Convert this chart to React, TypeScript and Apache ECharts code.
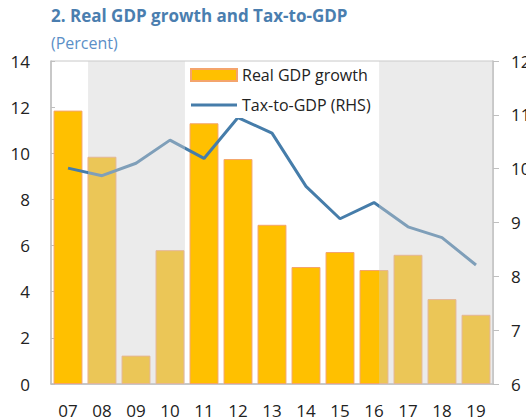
import React, { useEffect, useRef } from "react";
import * as echarts from "echarts";

const years = ["07", "08", "09", "10", "11", "12", "13", "14", "15", "16", "17", "18", "19"];
const realGdpGrowth = [11.85, 9.85, 1.23, 5.8, 11.3, 9.75, 6.9, 5.07, 5.72, 4.94, 5.6, 3.68, 3.0];
const taxToGdp = [10.01, 9.87, 10.1, 10.53, 10.19, 10.95, 10.66, 9.67, 9.07, 9.37, 8.92, 8.72, 8.21];
// shaded periods, in category-index units (start, end)
const shadedPeriods = [
  [0.59, 3.44],
  [9.15, 12.5],
];
const leftTicks = { min: 0, max: 14, interval: 2 };
const rightTicks = { min: 6, max: 12, interval: 1 };

const FONT = "'Open Sans', 'Noto Sans', sans-serif";

export default function App() {
  const ref = useRef<HTMLDivElement>(null);
  useEffect(() => {
    if (!ref.current) return;
    const chart = echarts.init(ref.current, null, { renderer: "svg" });
    chart.setOption({
      animation: false,
      title: {
        text: "2. Real GDP growth and Tax-to-GDP",
        subtext: "(Percent)",
        left: 46,
        top: 2,
        itemGap: 11,
        textStyle: { fontFamily: FONT, fontSize: 17, fontWeight: "bold", color: "#4A7EAF" },
        subtextStyle: { fontFamily: FONT, fontSize: 16, color: "#5B8FC7" },
      },
      legend: {
        orient: "vertical",
        left: 185,
        top: 62,
        z: 20,
        backgroundColor: "#ffffff",
        padding: [5, 8, 5, 5],
        itemGap: 14,
        itemWidth: 46,
        itemHeight: 12,
        symbolKeepAspect: true,
        textStyle: { fontFamily: FONT, fontSize: 16, color: "#222" },
        data: [
          { name: "Real GDP growth", icon: "rect" },
          {
            name: "Tax-to-GDP (RHS)",
            icon: "path://M0,0 H46 V3 H0 Z",
            itemStyle: { color: "#467DAA", borderWidth: 0 },
          },
        ],
      },
      grid: {
        left: 51,
        right: 33,
        top: 61,
        bottom: 36,
        show: true,
        borderColor: "#C8C8C8",
        borderWidth: 1,
        backgroundColor: "transparent",
        containLabel: false,
        outerBoundsMode: "none",
      },
      xAxis: [
        {
          type: "category",
          data: years,
          boundaryGap: true,
          axisLine: { onZero: false, lineStyle: { color: "#BFBFBF", width: 1.5 } },
          axisTick: { inside: true, length: 4, lineStyle: { color: "#BFBFBF" } },
          axisLabel: { fontFamily: FONT, fontSize: 17, color: "#222", margin: 18 },
        },
        {
          type: "value",
          min: -0.5,
          max: 12.5,
          show: false,
        },
      ],
      yAxis: [
        {
          type: "value",
          ...leftTicks,
          splitLine: { show: false },
          axisLine: { show: true, onZero: false, lineStyle: { color: "#BFBFBF", width: 1.5 } },
          axisTick: { show: true, inside: true, length: 4, lineStyle: { color: "#BFBFBF" } },
          axisLabel: { fontFamily: FONT, fontSize: 17, color: "#222", margin: 21 },
        },
        {
          type: "value",
          position: "right",
          ...rightTicks,
          splitLine: { show: false },
          axisLine: { show: true, onZero: false, lineStyle: { color: "#BFBFBF", width: 1.5 } },
          axisTick: { show: true, inside: false, length: 6, lineStyle: { color: "#BFBFBF" } },
          axisLabel: { fontFamily: FONT, fontSize: 17, color: "#222", margin: 18 },
        },
      ],
      series: [
        {
          name: "Real GDP growth",
          type: "bar",
          data: realGdpGrowth,
          barCategoryGap: "15%",
          itemStyle: { color: "#FFC000", borderColor: "#F4A46C", borderWidth: 1 },
          z: 2,
        },
        {
          name: "Tax-to-GDP (RHS)",
          type: "line",
          yAxisIndex: 1,
          data: taxToGdp,
          symbol: "none",
          lineStyle: { color: "#467DAA", width: 3 },
          itemStyle: { color: "#467DAA" },
          z: 3,
        },
        {
          name: "shade",
          type: "custom",
          xAxisIndex: 1,
          yAxisIndex: 0,
          z: 10,
          silent: true,
          data: shadedPeriods,
          renderItem: (params: any, api: any) => {
            const p0 = api.coord([api.value(0), 14]);
            const p1 = api.coord([api.value(1), 0]);
            return {
              type: "rect",
              shape: { x: p0[0], y: p0[1], width: p1[0] - p0[0], height: p1[1] - p0[1] },
              style: { fill: "rgba(207,207,207,0.42)" },
            };
          },
        },
      ],
    });
    return () => chart.dispose();
  }, []);
  return (
    <div
      ref={ref}
      style={{ position: "fixed", left: 0, top: 0, width: 526, height: 420, background: "#fff" }}
    />
  );
}
